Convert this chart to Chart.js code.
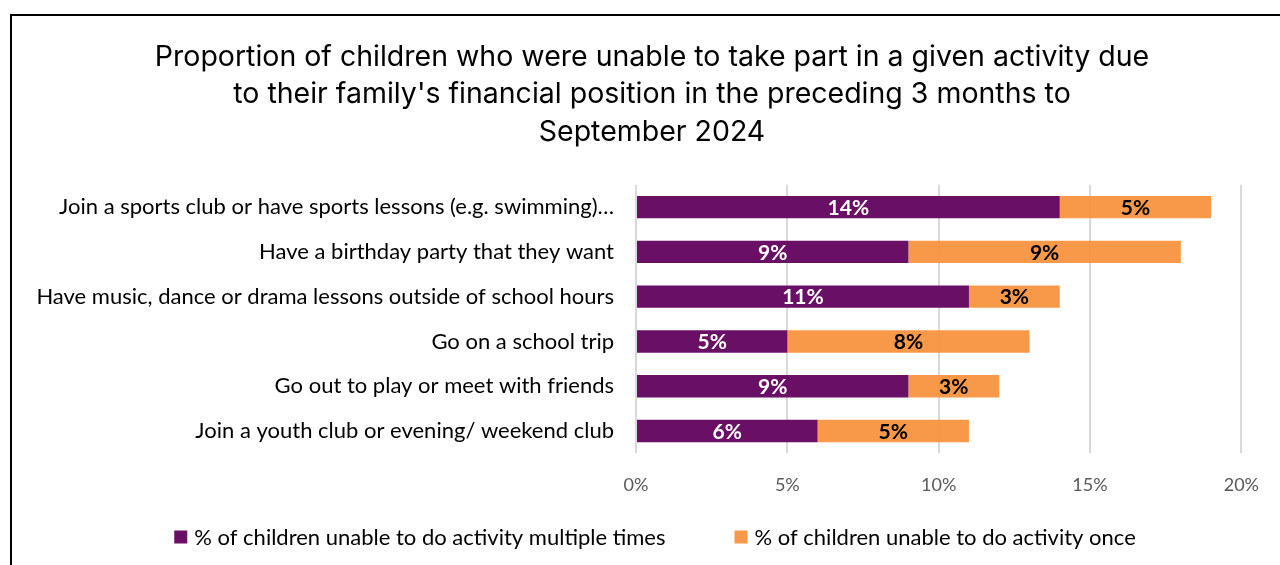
<!DOCTYPE html>
<html>
<head>
<meta charset="utf-8">
<script src="https://cdn.jsdelivr.net/npm/chart.js@4"></script>
<style>
  html, body { margin: 0; padding: 0; background: #fff; }
  #wrap { width: 1280px; height: 565px; }
</style>
</head>
<body>
<div id="wrap"><canvas id="activity-chart" width="1280" height="565"></canvas></div>
<script>
// activities, top to bottom
const activities = [
  "Join a sports club or have sports lessons (e.g. swimming)\u2026",
  "Have a birthday party that they want",
  "Have music, dance or drama lessons outside of school hours",
  "Go on a school trip",
  "Go out to play or meet with friends",
  "Join a youth club or evening/ weekend club"
];
const multipleTimes = [14, 9, 11, 5, 9, 6];
const once = [5, 9, 3, 8, 3, 5];
const xTicks = [0, 5, 10, 15, 20];

const bodyFont = "Lato, 'Open Sans', sans-serif";
const purple = "#6A0F66";
const orange = "rgba(247,147,62,0.95)";

// frame line on the left and top
const framePlugin = {
  id: 'frame',
  beforeDraw(chart) {
    const ctx = chart.ctx;
    ctx.save();
    ctx.strokeStyle = '#000';
    ctx.lineWidth = 2;
    ctx.beginPath();
    ctx.moveTo(11, 565);
    ctx.lineTo(11, 15);
    ctx.lineTo(1280, 15);
    ctx.stroke();
    ctx.restore();
  }
};

// value labels in the middle of each segment
const segmentLabels = {
  id: 'segmentLabels',
  afterDatasetsDraw(chart) {
    const ctx = chart.ctx;
    ctx.save();
    ctx.font = "bold 21px " + bodyFont;
    ctx.textAlign = 'center';
    ctx.textBaseline = 'middle';
    chart.data.datasets.forEach((ds, i) => {
      const meta = chart.getDatasetMeta(i);
      meta.data.forEach((bar, j) => {
        const cx = (bar.x + bar.base) / 2;
        ctx.fillStyle = i === 0 ? '#fff' : '#000';
        ctx.fillText(ds.data[j] + '%', cx, bar.y + 1);
      });
    });
    ctx.restore();
  }
};

// legend row under the axis, wider gap between items than the built-in one allows
const bottomLegend = {
  id: 'bottomLegend',
  afterDraw(chart) {
    const ctx = chart.ctx;
    const box = 13, gap = 7, itemGap = 69, y = 537, centerX = 655;
    ctx.save();
    ctx.font = "22px " + bodyFont;
    ctx.textBaseline = 'middle';
    ctx.textAlign = 'left';
    const items = chart.data.datasets.map(ds => ({
      text: ds.label, color: ds.backgroundColor,
      w: box + gap + ctx.measureText(ds.label).width
    }));
    const total = items.reduce((s, it) => s + it.w, 0) + itemGap * (items.length - 1);
    let x = centerX - total / 2;
    items.forEach(it => {
      ctx.fillStyle = it.color;
      ctx.fillRect(x, y - box / 2, box, box);
      ctx.fillStyle = '#000';
      ctx.fillText(it.text, x + box + gap, y + 1);
      x += it.w + itemGap;
    });
    ctx.restore();
  }
};

new Chart(document.getElementById("activity-chart"), {
  type: 'bar',
  data: {
    labels: activities,
    datasets: [{
      label: "% of children unable to do activity multiple times",
      data: multipleTimes,
      backgroundColor: purple,
      categoryPercentage: 0.5,
      barPercentage: 1
    }, {
      label: "% of children unable to do activity once",
      data: once,
      backgroundColor: orange,
      categoryPercentage: 0.5,
      barPercentage: 1
    }]
  },
  options: {
    indexAxis: 'y',
    responsive: false,
    animation: false,
    layout: { padding: { left: 24, right: 0, top: 20, bottom: 48 } },
    plugins: {
      title: {
        display: true,
        text: [
          "Proportion of children who were unable to take part in a given activity due",
          "to their family's financial position in the preceding 3 months to",
          "September 2024"
        ],
        color: '#000',
        font: { family: "Inter, 'Liberation Sans', sans-serif", size: 28.5, weight: 'normal', lineHeight: 1.33 },
        padding: { top: 18, bottom: 33 }
      },
      legend: { display: false },
      tooltip: { enabled: false }
    },
    scales: {
      x: {
        stacked: true,
        min: 0,
        max: 20,
        afterBuildTicks: (scale) => { scale.ticks = xTicks.map(v => ({ value: v })); },
        ticks: {
          callback: (v) => v + '%',
          color: '#595959',
          font: { family: bodyFont, size: 18 },
          padding: 21
        },
        grid: { color: '#d9d9d9', lineWidth: 2, drawTicks: false },
        border: { display: false }
      },
      y: {
        stacked: true,
        afterFit: (scale) => { scale.width = 612; },
        ticks: {
          color: '#000',
          font: { family: bodyFont, size: 22 },
          padding: 22
        },
        grid: { display: false, drawTicks: false },
        border: { display: false }
      },
      // empty strip on the right, keeps the plot clear of the edge
      yRight: {
        type: 'category',
        position: 'right',
        afterFit: (scale) => { scale.width = 37; },
        ticks: { display: false },
        grid: { display: false, drawTicks: false },
        border: { display: false }
      }
    }
  },
  plugins: [framePlugin, segmentLabels, bottomLegend]
});
</script>
</body>
</html>
